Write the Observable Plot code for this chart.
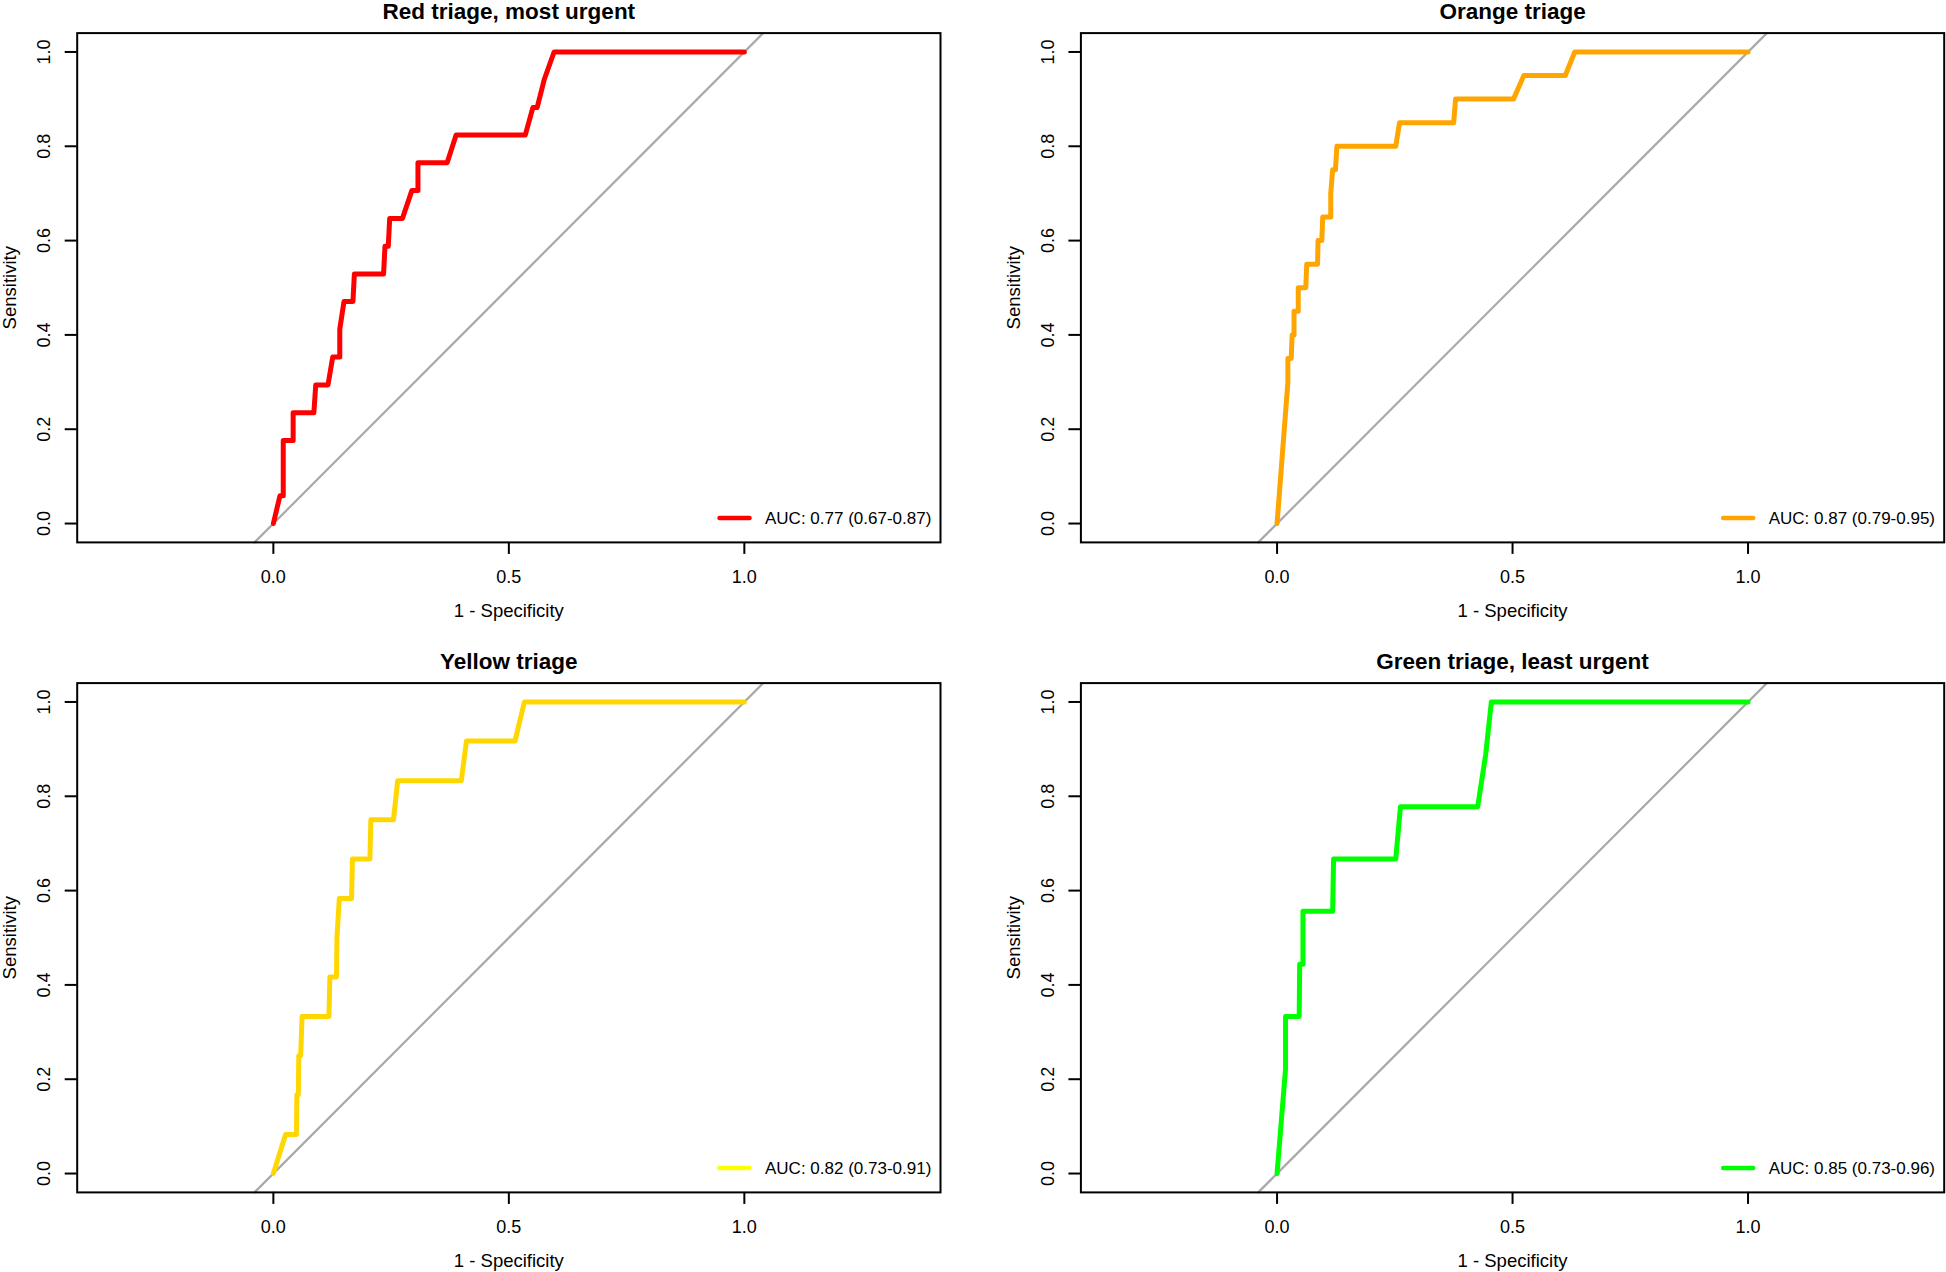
<!DOCTYPE html>
<html>
<head>
<meta charset="utf-8">
<script src="https://cdn.jsdelivr.net/npm/d3@7"></script>
<script src="https://cdn.jsdelivr.net/npm/@observablehq/plot@0.6"></script>
<style>
  html, body { margin: 0; padding: 0; background: #fff; }
  #wrap { position: relative; width: 1946px; height: 1272px; overflow: hidden; }
  .panel { position: absolute; width: 973px; height: 636px; }
  svg { font-family: "Liberation Sans", Arial, Helvetica, sans-serif; }
</style>
</head>
<body>
<div id="wrap"></div>
<script>
// ---- data ----
const titles = ["Red triage, most urgent", "Orange triage", "Yellow triage", "Green triage, least urgent"];
const aucLabels = ["AUC: 0.77 (0.67-0.87)", "AUC: 0.87 (0.79-0.95)", "AUC: 0.82 (0.73-0.91)", "AUC: 0.85 (0.73-0.96)"];
const curveColors = ["#FF0000", "#FFA500", "#FFD700", "#00FF00"];
const legendColors = ["#FF0000", "#FFA500", "#FFFF00", "#00FF00"];

const redFpr = [0, 0.014, 0.021, 0.021, 0.042, 0.042, 0.086, 0.090, 0.116, 0.126, 0.141, 0.141, 0.150, 0.169, 0.172, 0.234, 0.237, 0.244, 0.247, 0.274, 0.294, 0.307, 0.307, 0.369, 0.388, 0.535, 0.551, 0.560, 0.575, 0.596, 1.0];
const redTpr = [0, 0.059, 0.059, 0.176, 0.176, 0.235, 0.235, 0.294, 0.294, 0.353, 0.353, 0.412, 0.471, 0.471, 0.529, 0.529, 0.588, 0.588, 0.647, 0.647, 0.706, 0.706, 0.765, 0.765, 0.824, 0.824, 0.882, 0.882, 0.941, 1.0, 1.0];

const orangeFpr = [0, 0.023, 0.023, 0.030, 0.032, 0.036, 0.036, 0.045, 0.045, 0.061, 0.063, 0.086, 0.087, 0.095, 0.097, 0.114, 0.114, 0.118, 0.124, 0.127, 0.252, 0.260, 0.375, 0.379, 0.502, 0.524, 0.612, 0.632, 1.0];
const orangeTpr = [0, 0.30, 0.35, 0.35, 0.40, 0.40, 0.45, 0.45, 0.50, 0.50, 0.55, 0.55, 0.60, 0.60, 0.65, 0.65, 0.70, 0.75, 0.75, 0.80, 0.80, 0.85, 0.85, 0.90, 0.90, 0.95, 0.95, 1.0, 1.0];

const yellowFpr = [0, 0.026, 0.049, 0.050, 0.053, 0.054, 0.058, 0.061, 0.118, 0.120, 0.134, 0.135, 0.140, 0.166, 0.168, 0.205, 0.207, 0.255, 0.264, 0.399, 0.410, 0.513, 0.533, 1.0];
const yellowTpr = [0, 0.083, 0.083, 0.167, 0.167, 0.250, 0.250, 0.333, 0.333, 0.417, 0.417, 0.500, 0.583, 0.583, 0.667, 0.667, 0.750, 0.750, 0.833, 0.833, 0.917, 0.917, 1.0, 1.0];

const greenFpr = [0, 0.018, 0.018, 0.047, 0.048, 0.055, 0.055, 0.118, 0.120, 0.252, 0.262, 0.426, 0.443, 0.455, 1.0];
const greenTpr = [0, 0.222, 0.333, 0.333, 0.444, 0.444, 0.556, 0.556, 0.667, 0.667, 0.778, 0.778, 0.889, 1.0, 1.0];

const xTicks = [0, 0.5, 1];
const yTicks = [0, 0.2, 0.4, 0.6, 0.8, 1.0];
const xDomain = [-0.4165, 1.4165];
const yDomain = [-0.04, 1.04];

const fprs = [redFpr, orangeFpr, yellowFpr, greenFpr];
const tprs = [redTpr, orangeTpr, yellowTpr, greenTpr];

// ---- layout ----
const FONT = "'Liberation Sans', Arial, Helvetica, sans-serif";
const panelPos = [[0, 0], [973, 0], [0, 636], [973, 636]];
const marginsLR = [[76.7, 33], [107.4, 2.3]];
const marginsTB = [[32.6, 94.1], [46.6, 80.1]];

function legendMark(color, label) {
  return (index, scales, values, dims) => {
    const xr = dims.width - dims.marginRight;
    const yb = dims.height - dims.marginBottom;
    const g = d3.create("svg:g");
    g.append("line")
      .attr("x1", xr - 220.5).attr("x2", xr - 190.5)
      .attr("y1", yb - 24).attr("y2", yb - 24)
      .attr("stroke", color).attr("stroke-width", 4.5).attr("stroke-linecap", "round");
    g.append("text")
      .attr("x", xr - 175).attr("y", yb - 24).attr("dy", "0.35em")
      .attr("text-anchor", "start")
      .attr("font-size", 17).attr("font-family", FONT).attr("fill", "black")
      .text(label);
    return g.node();
  };
}

const wrap = document.getElementById("wrap");
for (let i = 0; i < 4; i++) {
  const col = i % 2, row = Math.floor(i / 2);
  const pts = fprs[i].map((f, j) => ({fpr: f, tpr: tprs[i][j]}));
  const chart = Plot.plot({
    width: 973,
    height: 636,
    marginLeft: marginsLR[col][0],
    marginRight: marginsLR[col][1],
    marginTop: marginsTB[row][0],
    marginBottom: marginsTB[row][1],
    style: {fontFamily: FONT, background: "white", overflow: "visible"},
    x: {domain: xDomain},
    y: {domain: yDomain},
    marks: [
      // identity diagonal across the whole plotting region
      Plot.line(yDomain, {x: d => d, y: d => d, stroke: "#A9A9A9", strokeWidth: 2.2}),
      Plot.line(pts, {x: "fpr", y: "tpr", stroke: curveColors[i], strokeWidth: 5, strokeLinejoin: "round", strokeLinecap: "round"}),
      Plot.frame({stroke: "black", strokeWidth: 2}),
      Plot.axisX(xTicks, {anchor: "bottom", tickSize: 12, fill: "none", stroke: "black", strokeWidth: 2, label: null}),
      Plot.axisY(yTicks, {anchor: "left", tickSize: 12, fill: "none", stroke: "black", strokeWidth: 2, label: null}),
      Plot.text(xTicks, {x: d => d, frameAnchor: "bottom", dy: 35, text: d => d3.format(".1f")(d), fontSize: 18, lineAnchor: "middle", fill: "black"}),
      Plot.text(yTicks, {y: d => d, frameAnchor: "left", dx: -33, rotate: -90, text: d => d3.format(".1f")(d), fontSize: 18, textAnchor: "middle", lineAnchor: "middle", fill: "black"}),
      Plot.text(["1 - Specificity"], {frameAnchor: "bottom", dy: 69, text: d => d, fontSize: 18.5, lineAnchor: "middle", fill: "black"}),
      Plot.text(["Sensitivity"], {frameAnchor: "left", dx: -67, rotate: -90, text: d => d, fontSize: 18.5, textAnchor: "middle", lineAnchor: "middle", fill: "black"}),
      Plot.text([titles[i]], {frameAnchor: "top", dy: -21.5, text: d => d, fontSize: 22.5, fontWeight: "bold", lineAnchor: "middle", fill: "black"}),
      legendMark(legendColors[i], aucLabels[i])
    ]
  });
  const div = document.createElement("div");
  div.className = "panel";
  div.style.left = panelPos[i][0] + "px";
  div.style.top = panelPos[i][1] + "px";
  div.appendChild(chart);
  wrap.appendChild(div);
}
</script>
</body>
</html>
